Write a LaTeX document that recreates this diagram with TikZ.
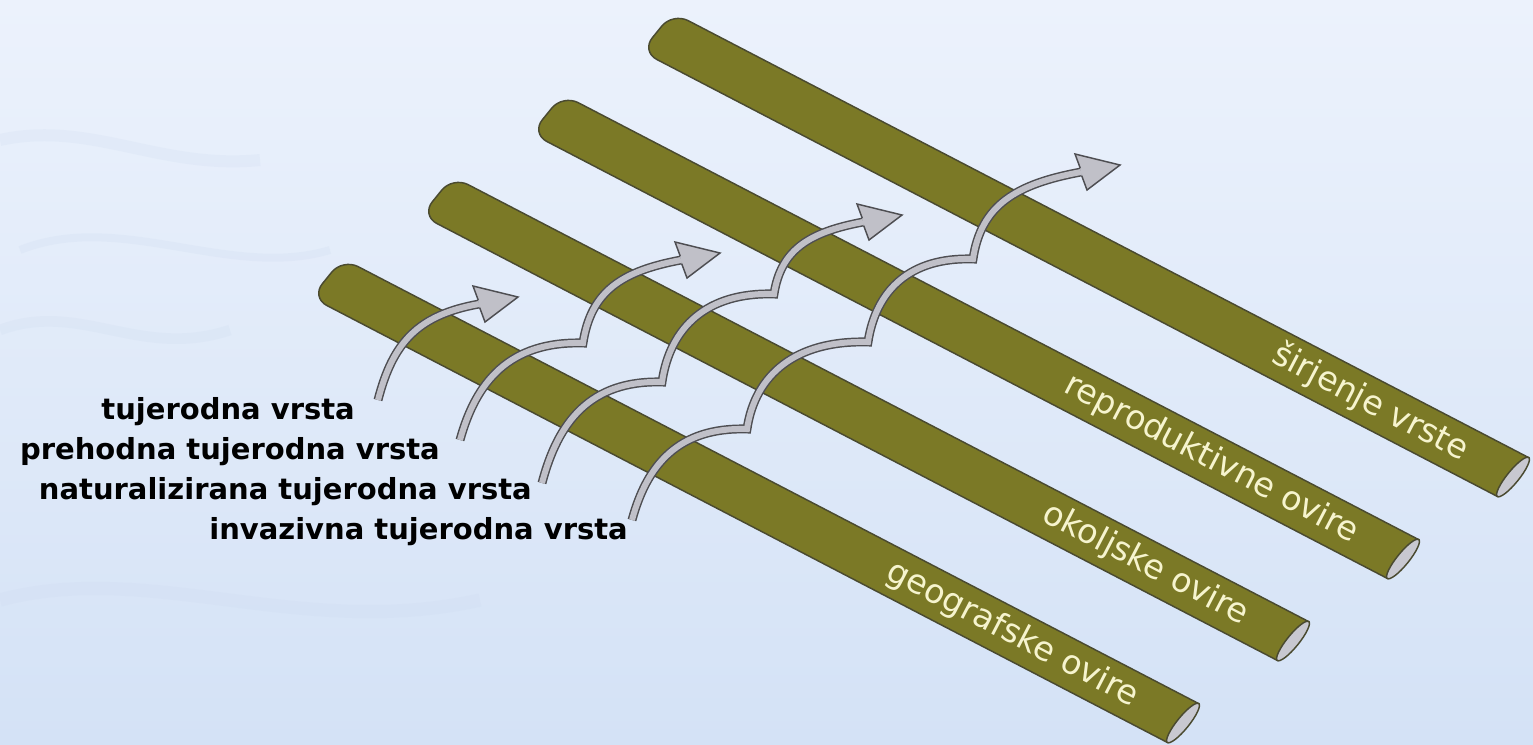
\documentclass[tikz,border=0pt]{standalone}
\usepackage{fontspec}
\setmainfont{DejaVu Sans}

\definecolor{bgtop}{RGB}{236,242,252}
\definecolor{bgbottom}{RGB}{212,226,246}
\definecolor{wisp}{RGB}{190,206,232}
\definecolor{logfill}{RGB}{123,121,38}
\definecolor{logedge}{RGB}{74,74,48}
\definecolor{logcut}{RGB}{200,200,208}
\definecolor{logtext}{RGB}{246,244,206}
\definecolor{hopdark}{RGB}{78,78,82}
\definecolor{hoplight}{RGB}{192,192,200}

\begin{document}
\begin{tikzpicture}[x=0.75pt,y=0.75pt,yscale=-1,xscale=1,
	log/.style={fill=logfill, draw=logedge, line width=1.1pt},
	logend/.style={fill=logcut, draw=logedge, line width=1.1pt},
	barrier/.style={text=logtext, font=\fontsize{25}{30}\selectfont, inner sep=0pt, rotate=-27.5, anchor=east},
	species/.style={font=\bfseries\fontsize{21.75}{26}\selectfont, inner sep=0pt, anchor=base east},
	hop/.style={draw=hopdark, line width=1.1pt, double=hoplight, double distance=4.5pt, line join=miter, miter limit=12},
	hophead/.style={draw=hopdark, fill=hoplight, line width=1.1pt, line join=miter}]
	\useasboundingbox (0,0) rectangle (1533,744);
	\shade [top color=bgtop, bottom color=bgbottom] (0,0) rectangle (1533,744);
	\draw [wisp, line width=9, opacity=0.14] (0,140) .. controls (90,120) and (160,170) .. (260,160) ;
	\draw [wisp, line width=6, opacity=0.14] (20,250) .. controls (120,210) and (230,280) .. (330,250) ;
	\draw [wisp, line width=8, opacity=0.12] (0,330) .. controls (80,300) and (140,360) .. (230,330) ;
	\draw [wisp, line width=10, opacity=0.1] (0,600) .. controls (150,560) and (300,640) .. (480,600) ;

	% barriers
	\draw [log] (1198.7,703.6) -- (1167.3,742.4) [rounded corners=13] -- (311.3,297.4) -- (342.7,258.6) [sharp corners] -- cycle ;
	\draw [logend, rotate around={-51:(1183,723)}] (1183,723) ellipse [x radius=25, y radius=6] ;
	\draw [log] (1308.7,621.6) -- (1277.3,660.4) [rounded corners=13] -- (421.3,215.4) -- (452.7,176.6) [sharp corners] -- cycle ;
	\draw [logend, rotate around={-51:(1293,641)}] (1293,641) ellipse [x radius=25, y radius=6] ;
	\draw [log] (1418.7,539.6) -- (1387.3,578.4) [rounded corners=13] -- (531.3,133.4) -- (562.7,94.6) [sharp corners] -- cycle ;
	\draw [logend, rotate around={-51:(1403,559)}] (1403,559) ellipse [x radius=25, y radius=6] ;
	\draw [log] (1528.7,457.6) -- (1497.3,496.4) [rounded corners=13] -- (641.3,51.4) -- (672.7,12.6) [sharp corners] -- cycle ;
	\draw [logend, rotate around={-51:(1513,477)}] (1513,477) ellipse [x radius=25, y radius=6] ;

	\path (335,282) -- (1183,723) node [barrier, pos=0.945] (geografske) {geografske ovire} ;
	\path (445,200) -- (1293,641) node [barrier, pos=0.945] (okoljske) {okoljske ovire} ;
	\path (555,118) -- (1403,559) node [barrier, pos=0.945] (reproduktivne) {reproduktivne ovire} ;
	\path (665,36) -- (1513,477) node [barrier, pos=0.945] (sirjenje) {širjenje vrste} ;

	% species
	\draw (355,419) node [species] (tujerodna) {tujerodna vrsta} ;
	\draw (440,459) node [species] (prehodna) {prehodna tujerodna vrsta} ;
	\draw (532,499) node [species] (naturalizirana) {naturalizirana tujerodna vrsta} ;
	\draw (628,539) node [species] (invazivna) {invazivna tujerodna vrsta} ;

	% jumps over the barriers
	\coordinate (t1) at (378,400) ;
	\coordinate (b1) at (479,304) ;
	\coordinate (t2) at (460,440) ;
	\coordinate (k21) at (583,343) ;
	\coordinate (b2) at (681,260) ;
	\coordinate (t3) at (542,483) ;
	\coordinate (k31) at (662,382) ;
	\coordinate (k32) at (774,294) ;
	\coordinate (b3) at (863,222) ;
	\coordinate (t4) at (632,520) ;
	\coordinate (k41) at (747,429) ;
	\coordinate (k42) at (868,342) ;
	\coordinate (k43) at (973,259) ;
	\coordinate (b4) at (1081,172) ;

	\draw [hop] (t1) .. controls +(15,-58) and +(-61,11) .. (b1) ;
	\draw [hophead] (478.3,300.3) -- (473,286) -- (518,297) -- (485,322) -- (479.7,307.7) ;

	\draw [hop] (t2) .. controls +(16,-58) and +(-74,-2) .. (k21) .. controls +(8,-52) and +(-59,11) .. (b2) ;
	\draw [hophead] (680.3,256.3) -- (675,242) -- (720,253) -- (687,278) -- (681.7,263.7) ;

	\draw [hop] (t3) .. controls +(16,-61) and +(-72,-2) .. (k31) .. controls +(8,-55) and +(-67,-2) .. (k32) .. controls +(7,-45) and +(-53,10) .. (b3) ;
	\draw [hophead] (862.3,218.3) -- (857,204) -- (902,215) -- (869,240) -- (863.7,225.7) ;

	\draw [hop] (t4) .. controls +(15,-55) and +(-69,-2) .. (k41) .. controls +(8,-54) and +(-73,-2) .. (k42) .. controls +(8,-52) and +(-63,-2) .. (k43) .. controls +(8,-54) and +(-65,12) .. (b4) ;
	\draw [hophead] (1080.3,168.3) -- (1075,154) -- (1120,165) -- (1087,190) -- (1081.7,175.7) ;
\end{tikzpicture}
\end{document}
